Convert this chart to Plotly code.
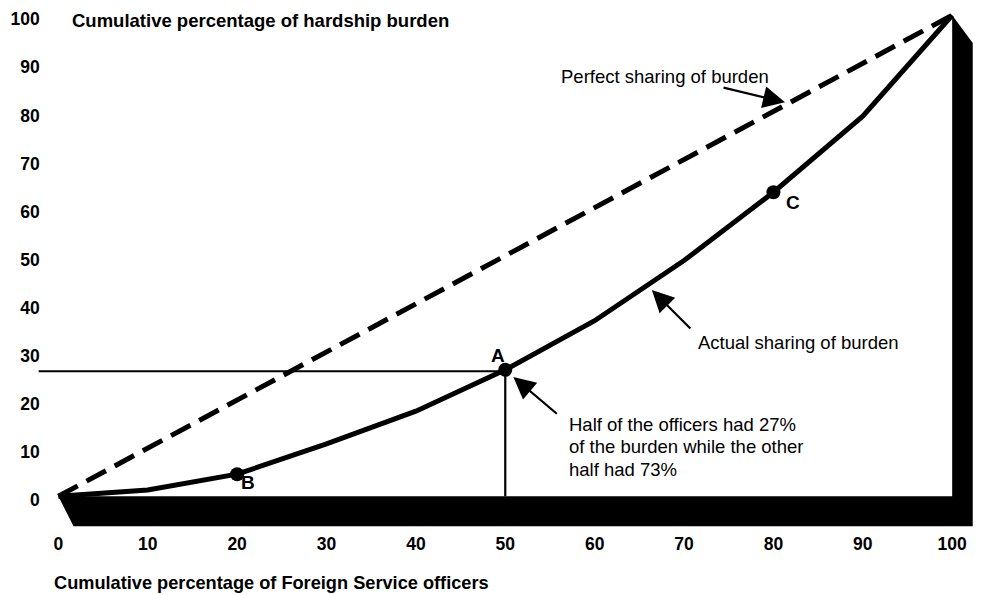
import plotly.graph_objects as go

# ---- data ----
officers_pct = [0, 10, 20, 30, 40, 50, 60, 70, 80, 90, 100]
actual_burden = [0, 1.3, 4.6, 10.9, 17.7, 26.3, 36.5, 49.0, 63.2, 79.0, 100]
perfect_burden = [0, 10, 20, 30, 40, 50, 60, 70, 80, 90, 100]

point_labels = ["B", "A", "C"]
point_x = [20, 50, 80]
point_y = [4.6, 26.3, 63.2]

tick_vals = [0, 10, 20, 30, 40, 50, 60, 70, 80, 90, 100]
tick_text = ["0", "10", "20", "30", "40", "50", "60", "70", "80", "90", "100"]

half_note_lines = ["Half of the officers had 27%",
                   "of the burden while the other",
                   "half had 73%"]

# black base / side frame (decorative)
frame_x = [0, 100, 100, 102.3, 102.3, 1.7, 0]
frame_y = [0, 0, 100, 94.2, -6.2, -6.2, 0]

# half-way reference lines
ref_x_start = -2.2
half_x = 50
half_y = 26.0

FONT = "Liberation Sans"

fig = go.Figure()

fig.add_trace(go.Scatter(
    x=frame_x, y=frame_y, mode="lines", fill="toself",
    fillcolor="black", line=dict(color="black", width=0),
    hoverinfo="skip", showlegend=False))

fig.add_trace(go.Scatter(
    x=[ref_x_start, half_x, half_x], y=[half_y, half_y, 0], mode="lines",
    line=dict(color="black", width=2.2), hoverinfo="skip", showlegend=False))

fig.add_trace(go.Scatter(
    x=officers_pct, y=perfect_burden, mode="lines",
    line=dict(color="black", width=5, dash="22px,10px"),
    showlegend=False))

fig.add_trace(go.Scatter(
    x=officers_pct, y=actual_burden, mode="lines",
    line=dict(color="black", width=5),
    showlegend=False))

fig.add_trace(go.Scatter(
    x=point_x, y=point_y, mode="markers",
    marker=dict(color="black", size=14),
    showlegend=False, cliponaxis=False))

label_offsets = {"B": (1.2, -1.8), "A": (-0.8, 2.9), "C": (2.2, -2.2)}
for lab, px, py in zip(point_labels, point_x, point_y):
    dx, dy = label_offsets[lab]
    fig.add_annotation(x=px + dx, y=py + dy, text=lab, showarrow=False,
                       font=dict(family=FONT, size=19, weight="bold", color="black"))

reg = dict(family=FONT, size=18.5, color="black")
bold = dict(family=FONT, size=18.5, weight="bold", color="black")
arrow = dict(showarrow=True, arrowhead=2, arrowsize=2.0, arrowwidth=2.2,
             arrowcolor="black", text="")

fig.add_annotation(x=56.0, y=87.3, text="Perfect sharing of burden", showarrow=False,
                   xanchor="left", yanchor="middle", font=reg)
fig.add_annotation(x=81.3, y=81.9, ax=-63, ay=-15, **arrow)

fig.add_annotation(x=71.3, y=31.9, text="Actual sharing of burden", showarrow=False,
                   xanchor="left", yanchor="middle", font=reg)
fig.add_annotation(x=66.4, y=42.9, ax=40, ay=40, **arrow)

for i, line in enumerate(half_note_lines):
    fig.add_annotation(x=56.9, y=15.0 - i * 4.67, text=line,
                       showarrow=False, xanchor="left", yanchor="middle", font=reg)
fig.add_annotation(x=50.9, y=24.8, ax=45, ay=38, **arrow)

fig.add_annotation(x=1.34, y=99.0, text="Cumulative percentage of hardship burden",
                   showarrow=False, xanchor="left", yanchor="middle", font=bold)
fig.add_annotation(x=-0.67, xref="x", y=-0.1015, yref="paper",
                   text="Cumulative percentage of Foreign Service officers",
                   showarrow=False, xanchor="left", yanchor="middle",
                   font=dict(family=FONT, size=18.2, weight="bold", color="black"))

tickfont = dict(family=FONT, size=17.5, weight="bold", color="black")
fig.update_layout(
    width=974, height=587,
    margin=dict(l=28, r=3, t=0, b=65),
    paper_bgcolor="white", plot_bgcolor="white",
    xaxis=dict(range=[-2.5, 103], tickvals=tick_vals, ticktext=tick_text,
               showgrid=False, zeroline=False, showline=False, tickfont=tickfont,
               ticks="", automargin=False, ticklabelstandoff=1),
    yaxis=dict(range=[-7, 101.5], tickvals=tick_vals, ticktext=tick_text,
               showgrid=False, zeroline=False, showline=False, tickfont=tickfont,
               anchor="free", position=0.004, ticks="", automargin=False,
               ticklabelshift=4, ticklabeloverflow="allow"),
)

fig.write_html("out.html")
